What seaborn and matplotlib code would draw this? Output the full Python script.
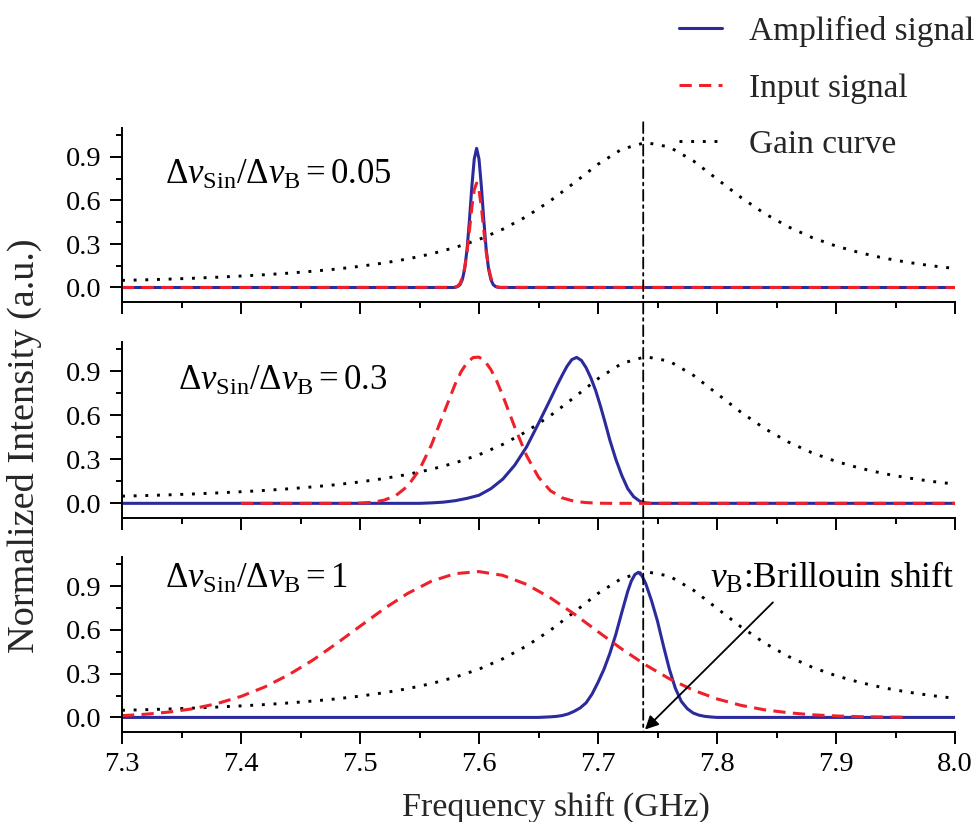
import numpy as np
import pandas as pd
import matplotlib
matplotlib.use("Agg")
import matplotlib.pyplot as plt
from matplotlib.ticker import MultipleLocator, FixedLocator
from matplotlib.patches import ConnectionPatch
import seaborn as sns

# ---------------- data ----------------
gain_x = [7.30, 7.32, 7.34, 7.36, 7.38, 7.40, 7.42, 7.44, 7.46, 7.48, 7.50, 7.52,
          7.54, 7.56, 7.58, 7.60, 7.62, 7.64, 7.66, 7.68, 7.70, 7.72, 7.74, 7.76,
          7.78, 7.80, 7.82, 7.84, 7.86, 7.88, 7.90, 7.92, 7.94, 7.96, 7.98, 8.00]
gain_y = [0.049, 0.053, 0.058, 0.064, 0.071, 0.079, 0.088, 0.099, 0.112, 0.127, 0.146, 0.169,
          0.197, 0.232, 0.276, 0.331, 0.402, 0.490, 0.598, 0.722, 0.850, 0.954, 1.000, 0.969,
          0.874, 0.748, 0.622, 0.510, 0.418, 0.344, 0.286, 0.240, 0.203, 0.174, 0.150, 0.131]

# panel 1 : ratio 0.05
p1_x = [7.300, 7.578, 7.580, 7.582, 7.584, 7.586, 7.588, 7.590, 7.592, 7.594, 7.596, 7.598,
        7.600, 7.602, 7.604, 7.606, 7.608, 7.610, 7.612, 7.614, 7.616, 7.618, 8.000]
p1_amp = [0.0, 0.000, 0.001, 0.006, 0.019, 0.054, 0.130, 0.267, 0.468, 0.697, 0.886, 0.960,
          0.886, 0.697, 0.468, 0.267, 0.130, 0.054, 0.019, 0.006, 0.001, 0.000, 0.0]
p1_inp = [0.0, 0.001, 0.003, 0.010, 0.028, 0.067, 0.138, 0.250, 0.397, 0.553, 0.674, 0.720,
          0.674, 0.553, 0.397, 0.250, 0.138, 0.067, 0.028, 0.010, 0.003, 0.001, 0.0]

# panel 2 : ratio 0.3
p2_amp_x = [7.30, 7.55, 7.56, 7.57, 7.58, 7.59, 7.60, 7.61, 7.62, 7.63, 7.64, 7.65, 7.66,
            7.665, 7.670, 7.674, 7.678, 7.682, 7.686, 7.690, 7.694, 7.698, 7.702, 7.706,
            7.71, 7.715, 7.72, 7.725, 7.73, 7.735, 7.74, 7.745, 8.00]
p2_amp_y = [0.0, 0.0, 0.003, 0.008, 0.018, 0.034, 0.055, 0.10, 0.165, 0.26, 0.385, 0.545, 0.71,
            0.795, 0.875, 0.935, 0.98, 0.995, 0.975, 0.925, 0.855, 0.77, 0.665, 0.55,
            0.43, 0.30, 0.19, 0.10, 0.045, 0.015, 0.003, 0.0, 0.0]
p2_inp_x = [7.40, 7.49, 7.50, 7.51, 7.52, 7.53, 7.54, 7.55, 7.56, 7.57, 7.58, 7.585, 7.59,
            7.595, 7.60, 7.605, 7.61, 7.615, 7.62, 7.63, 7.64, 7.65, 7.66, 7.67, 7.68, 7.69,
            7.70, 7.71, 8.00]
p2_inp_y = [0.0, 0.0, 0.002, 0.007, 0.021, 0.052, 0.117, 0.230, 0.398, 0.607, 0.813, 0.898, 0.960,
            0.994, 0.997, 0.969, 0.912, 0.832, 0.734, 0.520, 0.325, 0.178, 0.086, 0.037, 0.014,
            0.005, 0.001, 0.0, 0.0]

# panel 3 : ratio 1
p3_amp_x = [7.300, 7.650, 7.655, 7.660, 7.665, 7.670, 7.675, 7.680, 7.685, 7.690, 7.695, 7.700,
            7.705, 7.710, 7.715, 7.720, 7.725, 7.728, 7.731, 7.734, 7.737, 7.740, 7.745, 7.750,
            7.755, 7.760, 7.765, 7.770, 7.775, 7.780, 7.785, 7.790, 7.795, 7.800, 8.000]
p3_amp_y = [0.0, 0.0, 0.002, 0.004, 0.007, 0.013, 0.024, 0.042, 0.065, 0.10, 0.16, 0.24,
            0.33, 0.44, 0.57, 0.72, 0.865, 0.935, 0.98, 0.995, 0.97, 0.92, 0.80, 0.66,
            0.49, 0.33, 0.20, 0.11, 0.06, 0.03, 0.015, 0.007, 0.003, 0.0, 0.0]
p3_inp_x = [7.30, 7.32, 7.34, 7.36, 7.38, 7.40, 7.42, 7.44, 7.46, 7.48, 7.50, 7.52, 7.54, 7.56,
            7.58, 7.60, 7.62, 7.64, 7.66, 7.68, 7.70, 7.72, 7.74, 7.76, 7.78, 7.80, 7.82, 7.84,
            7.86, 7.88, 7.90, 7.92, 7.94, 7.96]
p3_inp_y = [0.012, 0.022, 0.037, 0.060, 0.095, 0.144, 0.209, 0.292, 0.391, 0.505, 0.625, 0.744,
            0.850, 0.934, 0.986, 1.000, 0.974, 0.912, 0.820, 0.709, 0.588, 0.469, 0.360, 0.265,
            0.187, 0.127, 0.083, 0.052, 0.032, 0.018, 0.010, 0.005, 0.003, 0.001]

panel_labels = [r"$\Delta\nu_{\rm Sin}/\Delta\nu_{\rm B}=0.05$",
                r"$\Delta\nu_{\rm Sin}/\Delta\nu_{\rm B}=0.3$",
                r"$\Delta\nu_{\rm Sin}/\Delta\nu_{\rm B}=1$"]
panel_label_pos = [(7.336, 0.713), (7.347, 0.776), (7.336, 0.886)]
series_names = ["Amplified signal", "Input signal", "Gain curve"]
x_ticks = [7.3, 7.4, 7.5, 7.6, 7.7, 7.8, 7.9, 8.0]
x_ticklabels = ["7.3", "7.4", "7.5", "7.6", "7.7", "7.8", "7.9", "8.0"]
y_ticks = [0.0, 0.3, 0.6, 0.9]
y_ticklabels = ["0.0", "0.3", "0.6", "0.9"]
nu_B = 7.738

# ---------------- style ----------------
sns.set_theme(style="ticks")
plt.rcParams["font.family"] = ["Liberation Serif", "DejaVu Serif"]
plt.rcParams["mathtext.fontset"] = "custom"
plt.rcParams["mathtext.rm"] = "Liberation Serif"
plt.rcParams["mathtext.it"] = "Liberation Serif:italic"
plt.rcParams["mathtext.bf"] = "Liberation Serif:bold"

BLUE = "#2b2b9b"
RED = "#f0202a"
W, H = 977, 822

fig = plt.figure(figsize=(W / 100, H / 100), dpi=100)
fig.patch.set_facecolor("white")


def rect(top, bottom, left=122, right=955):
    return [left / W, 1 - bottom / H, (right - left) / W, (bottom - top) / H]


axes = [fig.add_axes(rect(128, 302)), fig.add_axes(rect(342, 518)), fig.add_axes(rect(557, 732))]

panels = [
    ((p1_x, p1_amp), (p1_x, p1_inp)),
    ((p2_amp_x, p2_amp_y), (p2_inp_x, p2_inp_y)),
    ((p3_amp_x, p3_amp_y), (p3_inp_x, p3_inp_y)),
]

for i, (ax, ((ax_x, ax_y), (in_x, in_y))) in enumerate(zip(axes, panels)):
    sns.lineplot(x=gain_x, y=gain_y, ax=ax, color="black", lw=2.1,
                 linestyle=(0, (1, 3.0)), label=series_names[2], sort=False, estimator=None)
    sns.lineplot(x=ax_x, y=ax_y, ax=ax, color=BLUE, lw=2.2, label=series_names[0],
                 sort=False, estimator=None)
    sns.lineplot(x=in_x, y=in_y, ax=ax, color=RED, lw=2.2, linestyle=(0, (4, 2.4)),
                 label=series_names[1], sort=False, estimator=None)
    if ax.get_legend() is not None:
        ax.get_legend().remove()

    ax.set_xlim(7.3, 8.0)
    ax.set_ylim(-0.1, 1.1)
    ax.xaxis.set_major_locator(FixedLocator(x_ticks))
    ax.xaxis.set_minor_locator(MultipleLocator(0.05))
    ax.yaxis.set_major_locator(FixedLocator(y_ticks))
    ax.yaxis.set_minor_locator(MultipleLocator(0.15))
    ax.set_yticklabels(y_ticklabels)
    if i == 2:
        ax.set_xticklabels(x_ticklabels)
    else:
        ax.set_xticklabels([])
    ax.tick_params(which="major", direction="out", length=8.5, width=1.4, color="black",
                   labelsize=20.5, pad=6, labelcolor="black")
    ax.tick_params(which="minor", direction="out", length=4.5, width=1.4, color="black")
    for s in ["top", "right"]:
        ax.spines[s].set_visible(False)
    for s in ["left", "bottom"]:
        ax.spines[s].set_linewidth(1.4)
        ax.spines[s].set_color("black")
    ax.set_xlabel("")
    ax.set_ylabel("")
    ax.grid(False)
    ax.text(panel_label_pos[i][0], panel_label_pos[i][1], panel_labels[i], fontsize=25,
            ha="left", va="baseline", color="black")

# vertical Brillouin-shift line spanning all panels
con = ConnectionPatch(xyA=(nu_B, 1.14), coordsA=axes[0].transData,
                      xyB=(nu_B, -0.1), coordsB=axes[2].transData,
                      color="black", lw=1.3, linestyle=(0, (6, 2.5, 1.5, 2.5)))
fig.add_artist(con)

# arrow + annotation in bottom panel
ax3 = axes[2]
ax3.annotate("", xy=(nu_B + 0.0015, -0.083), xytext=(7.847, 0.789),
             arrowprops=dict(arrowstyle="-|>", color="black", lw=1.3, mutation_scale=20,
                             shrinkA=0, shrinkB=0))
ax3.text(7.999, 0.886, r"$\nu_{\rm B}$:Brillouin shift", fontsize=25.5, ha="right",
         va="baseline", color="black")

# legend
lines = {ln.get_label(): ln for ln in axes[0].get_lines()}
handles = [lines[n] for n in series_names]
fig.legend(handles, series_names, loc="upper left", bbox_to_anchor=(679 / W, 1 - 16 / H),
           frameon=False, fontsize=24, handlelength=1.3, handletextpad=0.8,
           labelspacing=0.78, borderpad=0, borderaxespad=0)

# axis titles
fig.text(24 / W, 1 - 446 / H, "Normalized Intensity (a.u.)", rotation=90, fontsize=27.5,
         ha="center", va="center")
fig.text(556 / W, 1 - 807 / H, "Frequency shift (GHz)", fontsize=24.5, ha="center", va="center")

fig.savefig("out.png", dpi=100, facecolor="white")
